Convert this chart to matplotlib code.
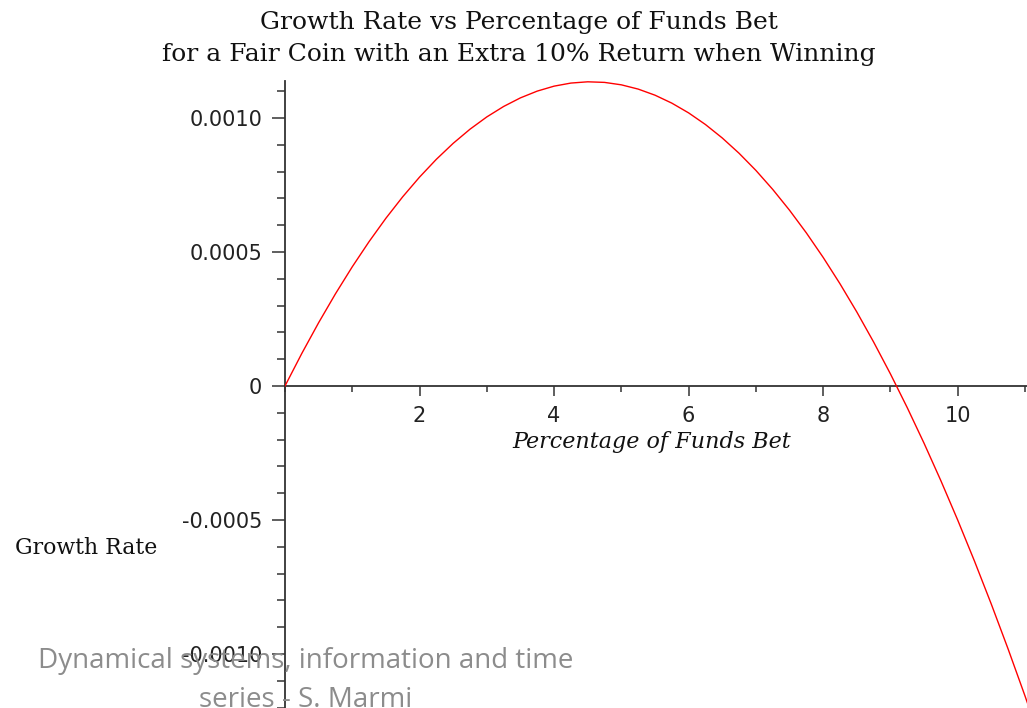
import matplotlib
matplotlib.use("Agg")
import matplotlib.pyplot as plt
from matplotlib.ticker import MultipleLocator, FixedFormatter, FixedLocator

# Percentage of funds bet (x) and growth rate (y)
pct_bet = [0.0, 0.25, 0.5, 0.75, 1.0, 1.25, 1.5, 1.75, 2.0, 2.25, 2.5, 2.75,
           3.0, 3.25, 3.5, 3.75, 4.0, 4.25, 4.5, 4.75, 5.0, 5.25, 5.5, 5.75,
           6.0, 6.25, 6.5, 6.75, 7.0, 7.25, 7.5, 7.75, 8.0, 8.25, 8.5, 8.75,
           9.0, 9.25, 9.5, 9.75, 10.0, 10.25, 10.5, 10.75, 11.0, 11.25]
growth_rate = [0.0, 0.00012155, 0.0002362, 0.00034394, 0.0004448, 0.00053877,
               0.0006259, 0.00070606, 0.0007794, 0.00084585, 0.0009054, 0.00095814,
               0.0010040, 0.00104297, 0.0010751, 0.00110035, 0.0011188, 0.00113029,
               0.0011350, 0.00113278, 0.0011237, 0.00110783, 0.0010851, 0.00105545,
               0.0010190, 0.00097561, 0.0009254, 0.00086831, 0.0008044, 0.00073352,
               0.0006558, 0.00057124, 0.0004798, 0.00038142, 0.0002762, 0.00016404,
               0.0000450, -0.00008094, -0.0002138, -0.00035356, -0.0005003, -0.00065387,
               -0.0008144, -0.0009819, -0.0011563, -0.00133773]

x_major_ticks = [2, 4, 6, 8, 10]
x_tick_labels = ["2", "4", "6", "8", "10"]
y_major_ticks = [-0.0010, -0.0005, 0.0, 0.0005, 0.0010]
y_tick_labels = ["-0.0010", "-0.0005", "0", "0.0005", "0.0010"]

title_lines = ["Growth Rate vs Percentage of Funds Bet",
               "for a Fair Coin with an Extra 10% Return when Winning"]
x_label = "Percentage of Funds Bet"
y_label = "Growth Rate"
footer_lines = ["Dynamical systems, information and time", "series - S. Marmi"]

W, H = 1027, 708
fig = plt.figure(figsize=(W / 100, H / 100), dpi=100)
fig.patch.set_facecolor("white")

left_px, top_px = 285, 81
ax = fig.add_axes([left_px / W, 0.0, 1 - left_px / W, 1 - top_px / H])
ax.set_xlim(0, 11.03)
ax.set_ylim(-0.0012015, 0.001138)

ax.plot(pct_bet, growth_rate, color="#ff0000", lw=1.0, clip_on=True, zorder=3)

axis_col = "#333333"
for s in ["top", "right"]:
    ax.spines[s].set_visible(False)
ax.spines["left"].set_position(("data", 0))
ax.spines["bottom"].set_position(("data", 0))
for s in ["left", "bottom"]:
    ax.spines[s].set_color(axis_col)
    ax.spines[s].set_linewidth(1.3)

ax.xaxis.set_major_locator(FixedLocator(x_major_ticks))
ax.xaxis.set_major_formatter(FixedFormatter(x_tick_labels))
ax.xaxis.set_minor_locator(MultipleLocator(1))
ax.yaxis.set_major_locator(FixedLocator(y_major_ticks))
ax.yaxis.set_major_formatter(FixedFormatter(y_tick_labels))
ax.yaxis.set_minor_locator(MultipleLocator(0.0001))

ax.tick_params(axis="x", which="major", direction="out", length=7.5, width=1.1,
               color=axis_col, labelsize=15, pad=7, labelcolor="#222222")
ax.tick_params(axis="x", which="minor", direction="out", length=4.5, width=1.1,
               color=axis_col)
ax.tick_params(axis="y", which="major", direction="out", length=9.5, width=1.1,
               color=axis_col, labelsize=15, pad=7, labelcolor="#222222")
ax.tick_params(axis="y", which="minor", direction="out", length=5.5, width=1.1,
               color=axis_col)
for lab in ax.get_xticklabels() + ax.get_yticklabels():
    lab.set_fontfamily("DejaVu Sans")

ax.set_facecolor("none")

# Title
fig.text(519 / W, 1 - 22 / H, title_lines[0], ha="center", va="center",
         fontsize=18, family="DejaVu Serif", color="#111111")
fig.text(519 / W, 1 - 55 / H, title_lines[1], ha="center", va="center",
         fontsize=18, family="DejaVu Serif", color="#111111")

# Axis labels
fig.text(652 / W, 1 - 442 / H, x_label, ha="center", va="center",
         fontsize=16, family="DejaVu Serif", style="italic", color="#111111")
fig.text(86 / W, 1 - 548 / H, y_label, ha="center", va="center",
         fontsize=15.8, family="DejaVu Serif", color="#111111")

# Footer
fig.text(306 / W, 1 - 668 / H, footer_lines[0], ha="center", va="baseline",
         fontsize=20, family="Open Sans", color="#8c8c8c", zorder=5)
fig.text(306 / W, 1 - 707 / H, footer_lines[1], ha="center", va="baseline",
         fontsize=20, family="Open Sans", color="#8c8c8c", zorder=5)

fig.savefig("out.png", dpi=100)
